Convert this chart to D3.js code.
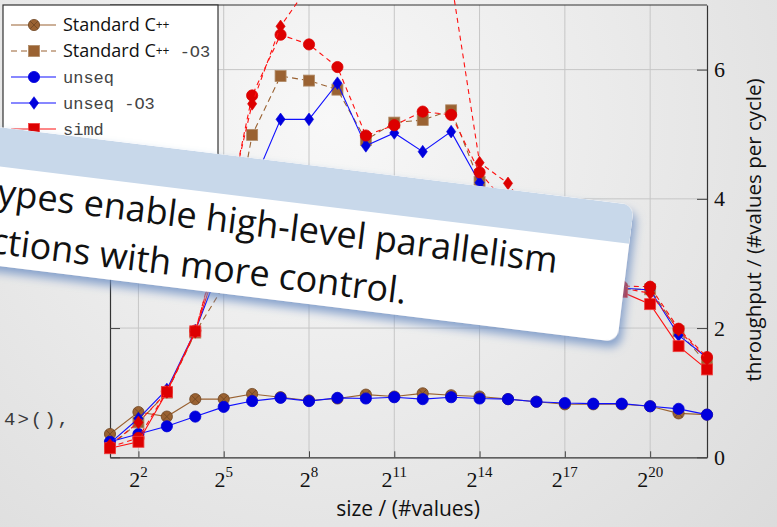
<!DOCTYPE html>
<html lang="en">
<head>
<meta charset="UTF-8">
<title>Throughput</title>
<script src="https://cdn.jsdelivr.net/npm/d3@7"></script>
<style>
html,body{margin:0;padding:0;width:777px;height:527px;overflow:hidden;}
svg{display:block;}
</style>
</head>
<body>
<script>
// sizes 2^1 .. 2^22
const sizes = [2,4,8,16,32,64,128,256,512,1024,2048,4096,8192,16384,32768,65536,131072,262144,524288,1048576,2097152,4194304];

const stdCpp     = [0.36,0.70,0.63,0.90,0.90,0.98,0.93,0.88,0.91,0.97,0.94,0.99,0.96,0.94,0.90,0.86,0.82,0.82,0.82,0.79,0.68,0.66];
const stdCppO3   = [0.17,0.54,1.00,1.93,2.65,4.99,5.90,5.83,5.69,4.91,5.18,5.22,5.37,4.26,3.80,3.30,2.90,2.70,2.60,2.60,1.95,1.45];
const unseq      = [0.24,0.36,0.48,0.63,0.78,0.87,0.92,0.87,0.92,0.91,0.93,0.90,0.93,0.91,0.90,0.86,0.84,0.83,0.83,0.79,0.75,0.66];
const unseqO3    = [0.22,0.60,1.05,1.96,3.10,4.20,5.23,5.23,5.79,4.82,5.02,4.73,5.04,4.25,3.80,3.30,2.90,2.70,2.62,2.59,1.89,1.54];
const simdO3a    = [0.16,0.30,1.02,1.96,3.50,5.60,6.54,6.39,6.04,4.98,5.14,5.35,5.30,4.41,3.90,3.40,3.00,2.80,2.65,2.64,1.99,1.55];
const simd       = [0.14,0.24,1.01,1.95,3.30,3.90,4.10,4.00,4.05,3.80,3.90,3.80,3.90,3.60,3.40,3.10,2.90,2.70,2.56,2.37,1.72,1.36];
const simdO3b    = [0.19,0.54,1.01,1.94,3.60,5.47,6.67,7.30,7.80,8.00,7.90,7.70,7.40,4.56,4.24,3.60,3.10,2.80,2.62,2.54,1.97,1.52];

const legendLabels = ["Standard C", "Standard C", "unseq", "unseq", "simd"];
const legendSuffix = ["", "-O3", "", "-O3", ""];
const legendSeries = [0, 1, 2, 3, 5];

const xTicks = [4,32,256,2048,16384,131072,1048576];
const xTickExp = ["2","5","8","11","14","17","20"];
const yTicks = [0,2,4,6];

const bannerLines = ["types enable high-level parallelism", "instructions with more control."];

const W = 777, H = 527;
const BROWN = "#9a6232", BROWN_D = "#6e4522";
const BLUE = "#0000dd", BLUE_L = "#1010ff";
const RED = "#dd0000", RED_L = "#ff1010";

const svg = d3.select("body").append("svg").attr("width", W).attr("height", H);
const defs = svg.append("defs");

const bg = defs.append("radialGradient").attr("id", "bg")
    .attr("gradientUnits", "userSpaceOnUse").attr("cx", 330).attr("cy", 120).attr("r", 640);
bg.append("stop").attr("offset", 0).attr("stop-color", "#f8f8f8");
bg.append("stop").attr("offset", 1).attr("stop-color", "#dadada");
svg.append("rect").attr("width", W).attr("height", H).attr("fill", "url(#bg)");

// bit of code from the slide behind
svg.append("text").attr("x", 4).attr("y", 425)
    .attr("font-family", "Liberation Mono").attr("font-size", 19).attr("letter-spacing", 2)
    .attr("fill", "#3a3a3a").text("4>(),");

const x = d3.scaleLog().base(2).domain([2, 4194304]).range([110, 707]);
const y = d3.scaleLinear().domain([0, 7]).range([457.3, 5]);

// grid
const grid = svg.append("g").attr("stroke", "#c6c6c6").attr("stroke-width", 1);
grid.selectAll("line.v").data(xTicks).join("line").attr("class", "v")
    .attr("x1", d => x(d)).attr("x2", d => x(d)).attr("y1", y(0)).attr("y2", y(7));
grid.selectAll("line.h").data(yTicks.filter(d => d > 0)).join("line").attr("class", "h")
    .attr("x1", x(2)).attr("x2", x(4194304)).attr("y1", d => y(d)).attr("y2", d => y(d));

// axes
const xAxis = svg.append("g").attr("transform", `translate(0,${y(0)})`)
    .call(d3.axisBottom(x).tickValues(xTicks).tickSizeInner(-6).tickSizeOuter(0).tickFormat(""));
const yAxisR = svg.append("g").attr("transform", `translate(${x(4194304)},0)`)
    .call(d3.axisRight(y).tickValues(yTicks).tickSizeInner(-10).tickSizeOuter(0).tickPadding(7).tickFormat(d3.format("d")));
const yAxisL = svg.append("g").attr("transform", `translate(${x(2)},0)`)
    .call(d3.axisLeft(y).tickValues(yTicks).tickSizeInner(-10).tickSizeOuter(0).tickFormat(""));
svg.append("line").attr("x1", x(2)).attr("x2", x(4194304)).attr("y1", y(7)).attr("y2", y(7))
    .attr("stroke", "#333").attr("stroke-width", 1.2);
[xAxis, yAxisR, yAxisL].forEach(a => {
    a.select(".domain").attr("stroke", "#333").attr("stroke-width", 1.2);
    a.selectAll(".tick line").attr("stroke", "#444");
});
yAxisR.selectAll(".tick text").attr("font-family", "Liberation Serif").attr("font-size", 22).attr("fill", "#111");

const xl = svg.append("g").attr("font-family", "Liberation Serif").attr("fill", "#111");
xTicks.forEach((t, i) => {
    const tx = xl.append("text").attr("x", x(t)).attr("y", 487).attr("text-anchor", "middle");
    tx.append("tspan").attr("font-size", 22).text("2");
    tx.append("tspan").attr("font-size", 15).attr("dy", -10).text(xTickExp[i]);
});

svg.append("text").attr("x", 408).attr("y", 516).attr("text-anchor", "middle")
    .attr("font-family", "Open Sans").attr("font-size", 21).attr("fill", "#111")
    .text("size / (#values)");
svg.append("text").attr("transform", "translate(761,230) rotate(-90)").attr("text-anchor", "middle")
    .attr("font-family", "Open Sans").attr("font-size", 20.5).attr("fill", "#111")
    .text("throughput / (#values per cycle)");

// markers
function marker(g, kind, cx, cy, fill, stroke) {
    if (kind === "circle" || kind === "otimes") {
        g.append("circle").attr("cx", cx).attr("cy", cy).attr("r", 5.6).attr("fill", fill).attr("stroke", stroke).attr("stroke-width", 0.8);
        if (kind === "otimes") {
            const r = 3.9;
            g.append("path").attr("d", `M${cx - r},${cy - r}L${cx + r},${cy + r}M${cx - r},${cy + r}L${cx + r},${cy - r}`)
                .attr("stroke", stroke).attr("stroke-width", 0.8);
        }
    } else if (kind === "square") {
        g.append("rect").attr("x", cx - 5.5).attr("y", cy - 5.5).attr("width", 11).attr("height", 11)
            .attr("fill", fill).attr("stroke", stroke).attr("stroke-width", 0.8);
    } else if (kind === "diamond") {
        g.append("path").attr("d", `M${cx},${cy - 6.3}L${cx + 4.6},${cy}L${cx},${cy + 6.3}L${cx - 4.6},${cy}Z`)
            .attr("fill", fill).attr("stroke", stroke).attr("stroke-width", 0.6);
    }
}

const series = [
    {v: stdCpp,   line: BROWN, dash: null,  kind: "otimes",  fill: BROWN, stroke: BROWN_D},
    {v: stdCppO3, line: BROWN, dash: "6,4", kind: "square",  fill: BROWN, stroke: "#b08a66"},
    {v: unseq,    line: BLUE_L, dash: null, kind: "circle",  fill: BLUE, stroke: BLUE},
    {v: unseqO3,  line: BLUE_L, dash: null, kind: "diamond", fill: BLUE, stroke: BLUE},
    {v: simdO3a,  line: RED_L, dash: "5,4", kind: "circle",  fill: RED, stroke: RED},
    {v: simd,     line: RED_L, dash: null,  kind: "square",  fill: RED, stroke: "#f04040"},
    {v: simdO3b,  line: RED_L, dash: "5,4", kind: "diamond", fill: RED, stroke: RED}
];

const plot = svg.append("g");
const line = d3.line().x(d => d[0]).y(d => d[1]);
series.forEach(s => {
    const g = plot.append("g");
    const pts = sizes.map((sz, i) => [x(sz), y(s.v[i])]);
    g.append("path").attr("d", line(pts)).attr("fill", "none")
        .attr("stroke", s.line).attr("stroke-width", 1.1).attr("stroke-dasharray", s.dash);
    pts.forEach(p => marker(g, s.kind, p[0], p[1], s.fill, s.stroke));
});

// legend
const lg = svg.append("g");
lg.append("rect").attr("x", 3).attr("y", 5).attr("width", 215).attr("height", 195)
    .attr("fill", "#fff").attr("stroke", "#333").attr("stroke-width", 1.2);
legendLabels.forEach((lab, i) => {
    const s = series[legendSeries[i]];
    const cy = 25 + i * 26;
    lg.append("line").attr("x1", 11).attr("x2", 56).attr("y1", cy).attr("y2", cy)
        .attr("stroke", s.line).attr("stroke-width", 1.1).attr("stroke-dasharray", s.dash);
    marker(lg, s.kind, 34, cy, s.fill, s.stroke);
    const t = lg.append("text").attr("x", 63).attr("y", cy + 6).attr("fill", "#111");
    if (i < 2) {
        t.append("tspan").attr("font-family", "Open Sans").attr("font-size", 18).text(lab);
        t.append("tspan").attr("font-family", "Open Sans").attr("font-size", 12).attr("dy", -2).text("++");
        if (legendSuffix[i]) t.append("tspan").attr("font-family", "Liberation Mono").attr("font-size", 17)
            .attr("fill", "#444").attr("dy", 2).text(" " + legendSuffix[i]);
    } else {
        t.attr("font-family", "Liberation Mono").attr("font-size", 17).attr("fill", "#444")
            .text(lab + (legendSuffix[i] ? " " + legendSuffix[i] : ""));
    }
});

// overlay card
const sh = defs.append("filter").attr("id", "sh").attr("x", "-10%").attr("y", "-30%").attr("width", "130%").attr("height", "170%");
sh.append("feDropShadow").attr("dx", 4).attr("dy", 6).attr("stdDeviation", 5)
    .attr("flood-color", "#6d8fc4").attr("flood-opacity", 0.8);
defs.append("clipPath").attr("id", "cardClip")
    .append("rect").attr("x", -800).attr("y", 0).attr("width", 800).attr("height", 138).attr("rx", 12);

const card = svg.append("g").attr("transform", "translate(634,205) rotate(7)");
card.append("rect").attr("x", -800).attr("y", 0).attr("width", 800).attr("height", 138).attr("rx", 12)
    .attr("fill", "#fff").attr("filter", "url(#sh)");
card.append("rect").attr("x", -800).attr("y", 0).attr("width", 800).attr("height", 39)
    .attr("fill", "#c8d8ea").attr("clip-path", "url(#cardClip)");
card.append("text").attr("x", -69).attr("y", 77).attr("text-anchor", "end")
    .attr("font-family", "Open Sans").attr("font-size", 36).attr("fill", "#111").text(bannerLines[0]);
card.append("text").attr("x", -215).attr("y", 126).attr("text-anchor", "end")
    .attr("font-family", "Open Sans").attr("font-size", 36).attr("fill", "#111").text(bannerLines[1]);
</script>
</body>
</html>
